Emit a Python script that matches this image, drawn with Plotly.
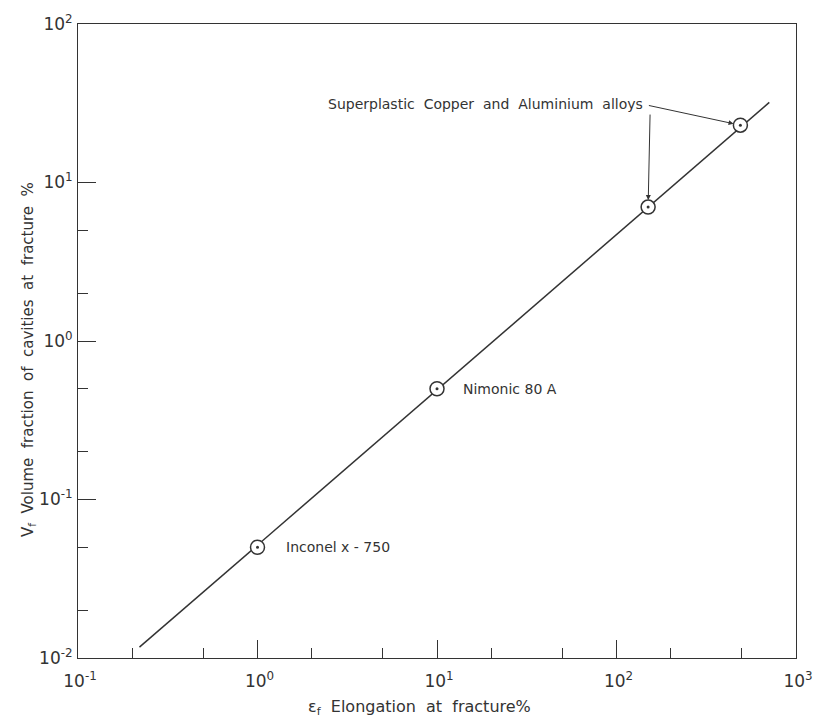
import math
import plotly.graph_objects as go

# ---- data ----
elongation_pts = [1.0, 10.0, 150.0, 490.0]          # ε_f, %
vf_pts = [0.05, 0.5, 7.0, 23.0]                      # V_f, %
point_labels = ["Inconel x - 750", "Nimonic 80 A"]
group_label = "Superplastic\u00a0 Copper\u00a0 and\u00a0 Aluminium\u00a0 alloys"

fit_x = [0.22, 710.0]
fit_y = [0.0117, 32.0]

x_major = [0.1, 1, 10, 100, 1000]
x_major_text = ["10<sup>-1</sup>", "10<sup>0</sup>", "10<sup>1</sup>", "10<sup>2</sup>", "10<sup>3</sup>"]
x_minor = [0.2, 0.5, 2, 5, 20, 50, 200, 500]
y_major = [0.01, 0.1, 1, 10, 100]
y_major_text = ["10<sup>-2</sup>", "10<sup>-1</sup>", "10<sup>0</sup>", "10<sup>1</sup>", "10<sup>2</sup>"]
y_minor = [0.02, 0.05, 0.2, 0.5, 2, 5]

x_title = "ε<sub>f</sub>\u00a0 Elongation\u00a0 at\u00a0 fracture%"
y_title = "V<sub>f</sub>\u00a0 Volume\u00a0 fraction\u00a0 of\u00a0 cavities\u00a0 at\u00a0 fracture\u00a0 %"

INK = "#333333"
FONT = "DejaVu Sans"

fig = go.Figure()
fig.add_trace(go.Scatter(x=fit_x, y=fit_y, mode="lines",
                         line=dict(color=INK, width=1.5), showlegend=False))
fig.add_trace(go.Scatter(x=elongation_pts, y=vf_pts, mode="markers",
                         marker=dict(symbol="circle", size=14, color="white",
                                     line=dict(color=INK, width=1.5)),
                         showlegend=False))
fig.add_trace(go.Scatter(x=elongation_pts, y=vf_pts, mode="markers",
                         marker=dict(symbol="circle", size=3, color=INK),
                         showlegend=False))

annotations = []
shifts = [26, 24]
for xv, yv, lab, sh in zip(elongation_pts[:2], vf_pts[:2], point_labels, shifts):
    annotations.append(dict(x=math.log10(xv), y=math.log10(yv), xref="x", yref="y",
                            text=lab, showarrow=False, xanchor="left", yanchor="middle",
                            xshift=sh, font=dict(family=FONT, size=14, color=INK)))

# Superplastic label and arrows
annotations.append(dict(x=math.log10(elongation_pts[2]), y=math.log10(vf_pts[2]),
                        xref="x", yref="y", text=group_label,
                        showarrow=False, xanchor="right", yanchor="middle",
                        xshift=-3, yshift=103, font=dict(family=FONT, size=14, color=INK)))
annotations.append(dict(x=math.log10(elongation_pts[2]), y=math.log10(vf_pts[2]),
                        xref="x", yref="y", text="", showarrow=True, ax=2, ay=-94,
                        arrowhead=2, arrowsize=1, arrowwidth=1, arrowcolor=INK, standoff=7))
annotations.append(dict(x=math.log10(elongation_pts[3]), y=math.log10(vf_pts[3]),
                        xref="x", yref="y", text="", showarrow=True, ax=-93, ay=-20,
                        arrowhead=2, arrowsize=1, arrowwidth=1, arrowcolor=INK, standoff=7))

# axis titles
annotations.append(dict(x=0.475, y=0, xref="paper", yref="paper", yshift=-49,
                        text=x_title, showarrow=False,
                        xanchor="center", yanchor="middle",
                        font=dict(family=FONT, size=16, color=INK)))
annotations.append(dict(x=0, y=0.47, xref="paper", yref="paper", xshift=-50,
                        text=y_title,
                        showarrow=False, textangle=-90, xanchor="center", yanchor="middle",
                        font=dict(family=FONT, size=15, color=INK)))

axis_common = dict(type="log", showgrid=False, zeroline=False, showline=True,
                   linecolor=INK, linewidth=1, mirror=True, ticks="inside",
                   ticklen=18, tickwidth=1, tickcolor=INK, tickmode="array",
                   ticklabeloverflow="allow",
                   tickfont=dict(family=FONT, size=17, color=INK))

fig.update_xaxes(range=[-1, 3], tickvals=x_major, ticktext=x_major_text,
                 ticklabelstandoff=8, ticklabelshift=2,
                 minor=dict(tickvals=x_minor, ticks="inside", ticklen=10,
                            tickwidth=1, tickcolor=INK),
                 **axis_common)
fig.update_yaxes(range=[-2, 2], tickvals=y_major, ticktext=y_major_text,
                 ticklabelstandoff=1,
                 minor=dict(tickvals=y_minor, ticks="inside", ticklen=10,
                            tickwidth=1, tickcolor=INK),
                 **axis_common)

fig.update_layout(width=825, height=718, margin=dict(l=78, r=16, t=14, b=60),
                  plot_bgcolor="white", paper_bgcolor="white",
                  annotations=annotations, showlegend=False)

fig.write_html("out.html")
